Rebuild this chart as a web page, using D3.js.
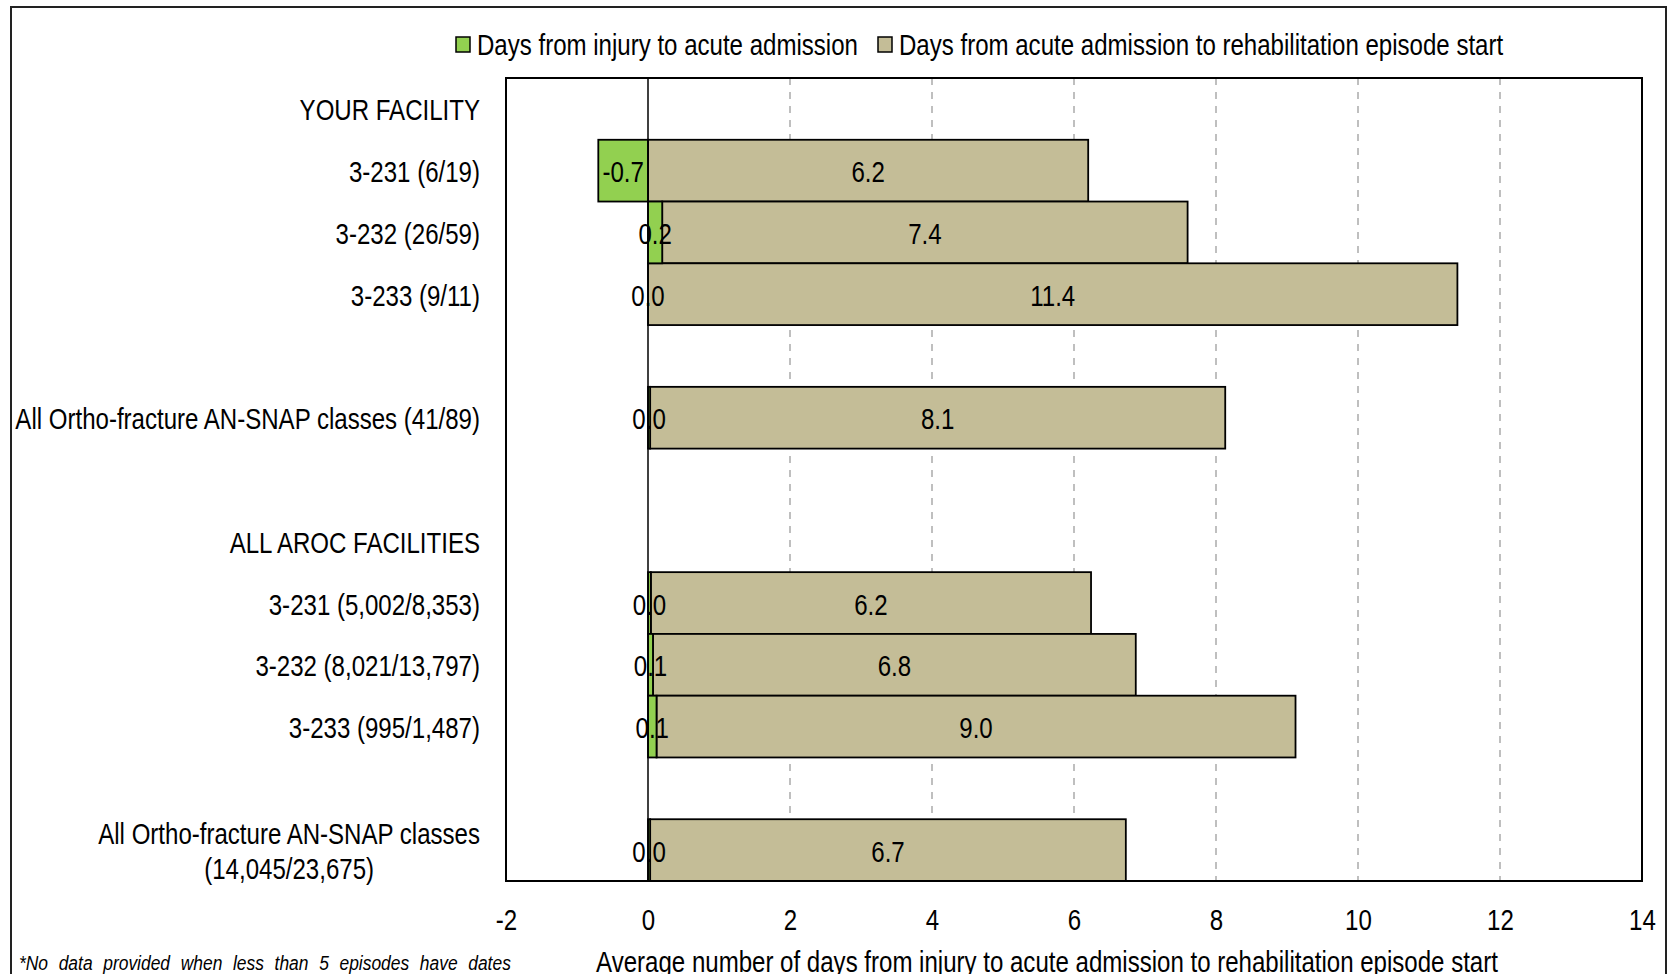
<!DOCTYPE html>
<html>
<head>
<meta charset="utf-8">
<script src="https://cdn.jsdelivr.net/npm/d3@7"></script>
<style>
  html, body { margin: 0; padding: 0; background: #fff; }
  svg { display: block; }
  text { font-family: "Liberation Sans Narrow", "Arial Narrow", "Liberation Sans", Arial, sans-serif; fill: #000; }
</style>
</head>
<body>
<svg id="chart" width="1673" height="974"></svg>
<script>
// ---- data ----
const categories = [
  "YOUR FACILITY",
  "3-231 (6/19)",
  "3-232 (26/59)",
  "3-233 (9/11)",
  "",
  "All Ortho-fracture AN-SNAP classes (41/89)",
  "",
  "ALL AROC FACILITIES",
  "3-231 (5,002/8,353)",
  "3-232 (8,021/13,797)",
  "3-233 (995/1,487)",
  "",
  "All Ortho-fracture AN-SNAP classes\n(14,045/23,675)"
];
const injuryToAcute = [null, -0.7, 0.2, 0.0, null, 0.03, null, null, 0.04, 0.07, 0.12, null, 0.03];
const acuteToRehab  = [null, 6.2, 7.4, 11.4, null, 8.1, null, null, 6.2, 6.8, 9.0, null, 6.7];
const seriesNames = ["Days from injury to acute admission", "Days from acute admission to rehabilitation episode start"];
const xTicks = [-2, 0, 2, 4, 6, 8, 10, 12, 14];
const xTitle = "Average number of days from injury to acute admission to rehabilitation episode start";
const footnote = "*No data provided when less than 5 episodes have dates";

const colors = ["#92D050", "#C4BD97"];

// ---- layout ----
const svg = d3.select("#chart");
const plot = { left: 506, right: 1642, top: 78, bottom: 881 };
const SX = 0.83; // horizontal condensing (Arial Narrow look)

const x = d3.scaleLinear().domain([-2, 14]).range([plot.left, plot.right]);
const y = d3.scaleBand().domain(d3.range(categories.length)).range([plot.top, plot.bottom]).padding(0);

function addText(parent, tx, ty, str, opts = {}) {
  const t = parent.append("text")
    .attr("transform", `translate(${tx},${ty}) scale(${opts.sx || SX},1)`)
    .attr("x", 0).attr("y", 0).attr("dy", "0.4em")
    .attr("text-anchor", opts.anchor || "start")
    .attr("font-size", opts.size || 29)
    .text(str);
  if (opts.italic) t.attr("font-style", "italic");
  if (opts.wordSpacing) t.style("word-spacing", opts.wordSpacing + "px");
  return t;
}

// outer frame
svg.append("rect")
  .attr("x", 11).attr("y", 7).attr("width", 1655).attr("height", 1000)
  .attr("fill", "none").attr("stroke", "#222").attr("stroke-width", 2);

// gridlines (dashed), except at -2, 0 and 14
svg.append("g")
  .selectAll("line")
  .data(xTicks.filter(t => t !== -2 && t !== 0 && t !== 14))
  .join("line")
  .attr("x1", d => x(d)).attr("x2", d => x(d))
  .attr("y1", plot.top).attr("y2", plot.bottom)
  .attr("stroke", "#BFBFBF").attr("stroke-width", 2)
  .attr("stroke-dasharray", "7,7");

// rows
const rows = categories.map((c, i) => ({ i, c, g: injuryToAcute[i], t: acuteToRehab[i] }))
  .filter(d => d.g !== null && d.t !== null);

const tanStart = d => Math.max(0, d.g);
svg.append("g")
  .selectAll("rect")
  .data(rows)
  .join("rect")
  .attr("x", d => x(tanStart(d)))
  .attr("y", d => y(d.i))
  .attr("width", d => x(tanStart(d) + d.t) - x(tanStart(d)))
  .attr("height", y.bandwidth())
  .attr("fill", colors[1]).attr("stroke", "#000").attr("stroke-width", 1.8);

svg.append("g")
  .selectAll("rect")
  .data(rows)
  .join("rect")
  .attr("x", d => x(Math.min(0, d.g)))
  .attr("y", d => y(d.i))
  .attr("width", d => Math.abs(x(d.g) - x(0)))
  .attr("height", y.bandwidth())
  .attr("fill", colors[0]).attr("stroke", "#000").attr("stroke-width", 1.8);

// zero axis line
svg.append("line")
  .attr("x1", x(0)).attr("x2", x(0))
  .attr("y1", plot.top).attr("y2", plot.bottom)
  .attr("stroke", "#000").attr("stroke-width", 1.5);

// plot border
svg.append("rect")
  .attr("x", plot.left).attr("y", plot.top)
  .attr("width", plot.right - plot.left).attr("height", plot.bottom - plot.top)
  .attr("fill", "none").attr("stroke", "#000").attr("stroke-width", 2);

const fmt = v => d3.format(".1f")(v).replace("\u2212", "-");

// data labels
const lblG = svg.append("g");
rows.forEach(d => {
  const cy = y(d.i) + y.bandwidth() / 2;
  addText(lblG, x(d.g / 2), cy, fmt(d.g), { anchor: "middle" });
  addText(lblG, x(tanStart(d) + d.t / 2), cy, fmt(d.t), { anchor: "middle" });
});

// category labels
const catG = svg.append("g");
categories.forEach((c, i) => {
  if (!c) return;
  const lines = c.split("\n");
  const cy = y(i) + y.bandwidth() / 2;
  const lh = 35;
  if (lines.length === 1) {
    addText(catG, 480, cy, c, { anchor: "end" });
  } else {
    const ts = lines.map((ln, k) =>
      addText(catG, 0, cy + (k - (lines.length - 1) / 2) * lh, ln, { anchor: "middle" }));
    const w = d3.max(ts, t => t.node().getComputedTextLength()) * SX;
    ts.forEach((t, k) => t.attr("transform",
      `translate(${480 - w / 2},${cy + (k - (lines.length - 1) / 2) * lh}) scale(${SX},1)`));
  }
});

// x tick labels via axis
const xAxis = d3.axisBottom(x).tickValues(xTicks).tickSize(0).tickPadding(0).tickFormat(d3.format("d"));
const axG = svg.append("g").attr("transform", `translate(0, ${plot.bottom})`).call(xAxis);
axG.select(".domain").remove();
axG.attr("font-family", null).attr("font-size", null);
axG.selectAll("text")
  .attr("font-size", 29)
  .attr("y", 0).attr("dy", "0.4em")
  .attr("transform", `translate(0,37) scale(${SX},1)`)
  .text(d => d < 0 ? "-" + Math.abs(d) : d);

// x title
addText(svg, 1047, 960, xTitle, { anchor: "middle", size: 29 });

// footnote
addText(svg, 19, 962, footnote, { size: 21, italic: true, wordSpacing: 7 });

// legend
const legend = svg.append("g");
const legendItems = [
  { name: seriesNames[0], color: colors[0], sx: 456, tx: 477 },
  { name: seriesNames[1], color: colors[1], sx: 878, tx: 899 }
];
legendItems.forEach(it => {
  legend.append("rect")
    .attr("x", it.sx).attr("y", 37).attr("width", 14).attr("height", 15)
    .attr("fill", it.color).attr("stroke", "#000").attr("stroke-width", 1.5);
  addText(legend, it.tx, 43, it.name);
});
</script>
</body>
</html>
